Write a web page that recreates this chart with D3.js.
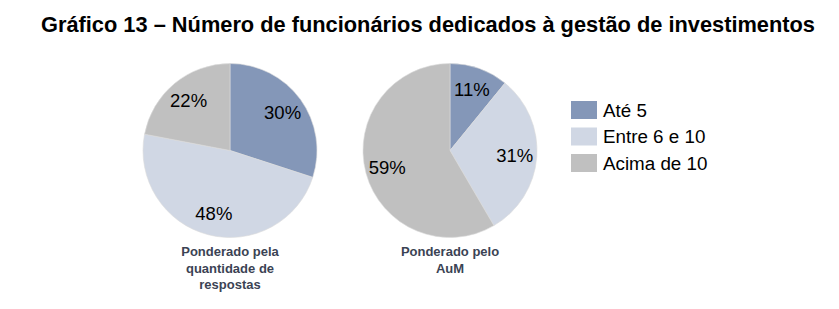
<!DOCTYPE html>
<html>
<head>
<meta charset="utf-8">
<script src="https://cdn.jsdelivr.net/npm/d3@7"></script>
<style>
  body { margin: 0; background: #fff; }
</style>
</head>
<body>
<div id="chart"></div>
<script>
// Chart data
const categories = ["Até 5", "Entre 6 e 10", "Acima de 10"];
const pieTitles = [
    ["Ponderado pela", "quantidade de", "respostas"],
    ["Ponderado pelo", "AuM"]
];
const respostasValues = [30, 48, 22];
const aumValues = [11, 31, 59];
const colors = ["#8497b8", "#d0d7e4", "#c0c0c0"];

const width = 839;
const height = 309;
const radius = 87;
const pieY = 150.5;
const pieXs = [230, 450];

const svg = d3.select("#chart")
    .append("svg")
    .attr("width", width)
    .attr("height", height);

// Title
svg.append("text")
    .attr("x", 428)
    .attr("y", 32)
    .attr("text-anchor", "middle")
    .style("font-family", "'Liberation Sans', Arial, sans-serif")
    .style("font-weight", "bold")
    .style("font-size", "21.8px")
    .style("fill", "#000")
    .text("Gráfico 13 – Número de funcionários dedicados à gestão de investimentos");

const color = d3.scaleOrdinal().domain(categories).range(colors);

const pie = d3.pie()
    .sort(null)
    .value(d => d.value);

const arc = d3.arc().innerRadius(0).outerRadius(radius);
const labelArc = d3.arc().innerRadius(65).outerRadius(65);

[respostasValues, aumValues].forEach(function (values, i) {
    const data = categories.map((c, j) => ({ category: c, value: values[j] }));
    const g = svg.append("g")
        .attr("transform", `translate(${pieXs[i]}, ${pieY})`);

    const slices = g.selectAll("g.slice")
        .data(pie(data))
        .enter()
        .append("g")
        .attr("class", "slice");

    slices.append("path")
        .attr("d", arc)
        .attr("fill", d => color(d.data.category))
        .attr("stroke", "#dcdcdc")
        .attr("stroke-width", 0.6);

    slices.append("text")
        .attr("transform", d => `translate(${labelArc.centroid(d)})`)
        .attr("text-anchor", "middle")
        .attr("dy", "0.36em")
        .style("font-family", "'Liberation Sans', Arial, sans-serif")
        .style("font-size", "18.5px")
        .style("fill", "#000")
        .text(d => d.data.value + "%");

    // Caption below each pie
    const caption = svg.append("text")
        .attr("text-anchor", "middle")
        .style("font-family", "'Liberation Sans', Arial, sans-serif")
        .style("font-weight", "bold")
        .style("font-size", "13px")
        .style("fill", "#3b4354");
    pieTitles[i].forEach(function (line, k) {
        caption.append("tspan")
            .attr("x", pieXs[i])
            .attr("y", 256 + k * 16.5)
            .text(line);
    });
});

// Legend
const legend = svg.append("g")
    .attr("transform", "translate(571, 101)");

const legendRows = legend.selectAll("g")
    .data(categories)
    .enter()
    .append("g")
    .attr("transform", (d, i) => `translate(0, ${i * 26.5})`);

legendRows.append("rect")
    .attr("width", 26)
    .attr("height", 18)
    .attr("fill", d => color(d));

legendRows.append("text")
    .attr("x", 32)
    .attr("y", 9)
    .attr("dy", "0.36em")
    .style("font-family", "'Liberation Sans', Arial, sans-serif")
    .style("font-size", "18.8px")
    .style("fill", "#000")
    .text(d => d);
</script>
</body>
</html>
